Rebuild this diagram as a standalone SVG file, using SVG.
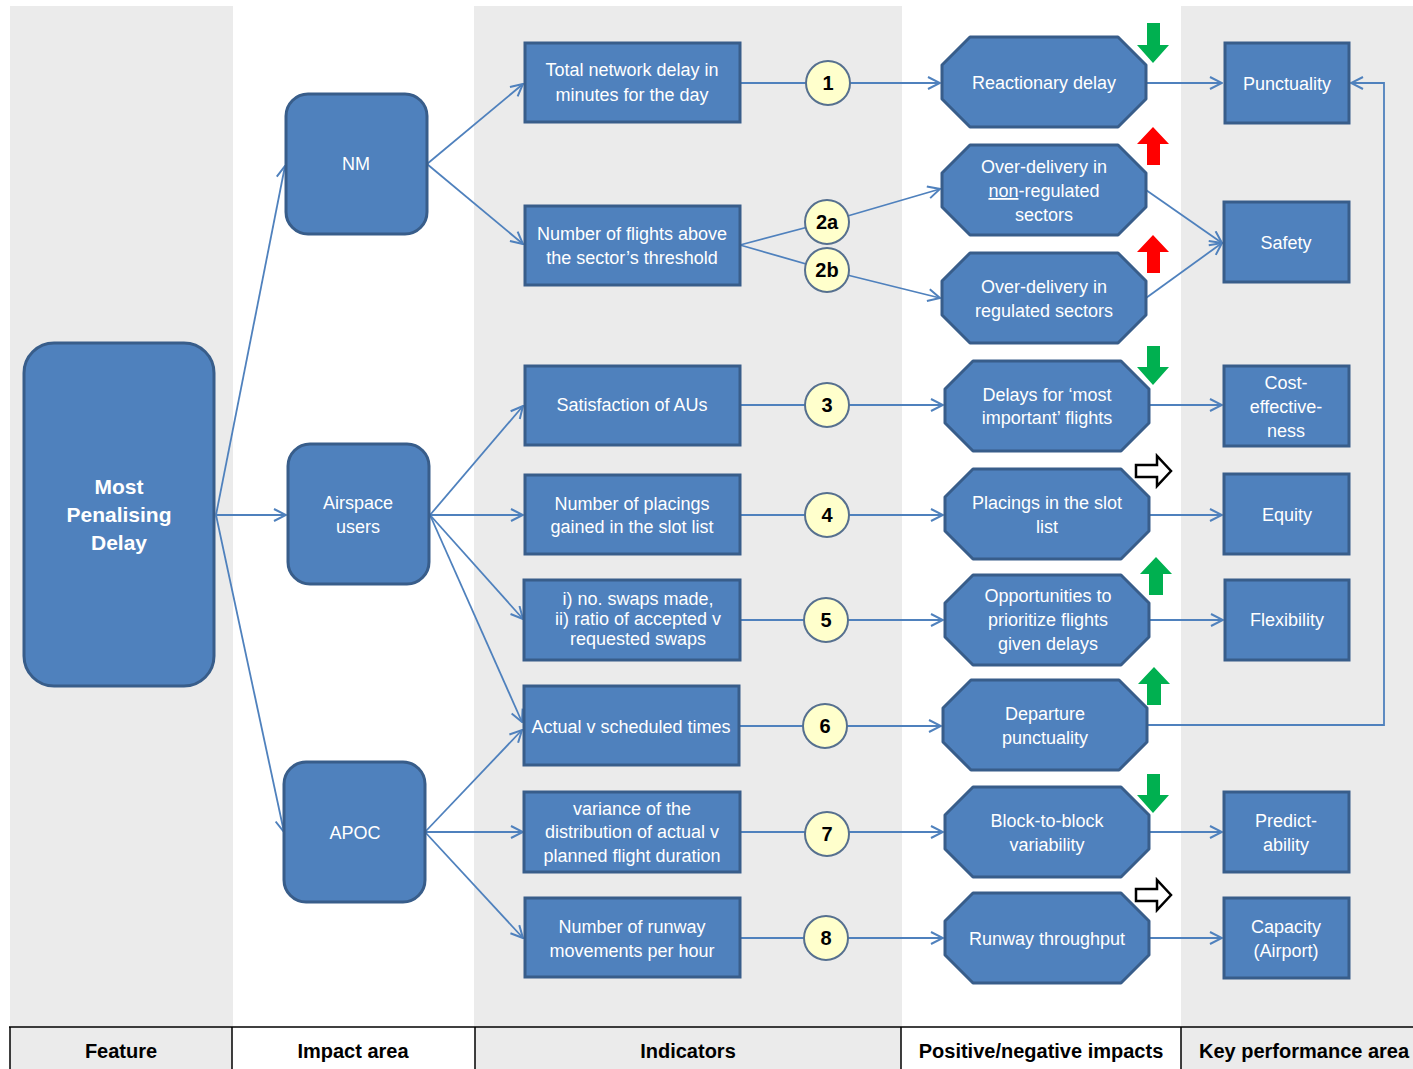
<svg xmlns="http://www.w3.org/2000/svg" width="1413" height="1069" viewBox="0 0 1413 1069">
<defs>
<style>
.col{fill:#ebebeb}
.rr{fill:#4f81bd;stroke:#385d8a;stroke-width:3}
.bx{fill:#4f81bd;stroke:#385d8a;stroke-width:3}
.oc{fill:#4f81bd;stroke:#385d8a;stroke-width:3;stroke-linejoin:round}
.ci{fill:#ffffcc;stroke:#56708f;stroke-width:2}
.t{font-family:"Liberation Sans",Arial,sans-serif;font-size:18px;fill:#fff;text-anchor:middle}
.tb{font-family:"Liberation Sans",Arial,sans-serif;font-size:21px;font-weight:bold;fill:#fff;text-anchor:middle}
.cn{font-family:"Liberation Sans",Arial,sans-serif;font-size:20px;font-weight:bold;fill:#000;text-anchor:middle}
.hd{font-family:"Liberation Sans",Arial,sans-serif;font-size:20px;font-weight:bold;fill:#000;text-anchor:middle}
.ln{fill:none;stroke:#4f81bd;stroke-width:1.8}
.g{fill:#00b050}
.r{fill:#ff0000}
.k{fill:#fff;stroke:#000;stroke-width:2.5}
.hl{stroke:#000;stroke-width:1.5}
</style>
<marker id="ah" viewBox="0 0 14 14" refX="13" refY="7" markerWidth="14" markerHeight="14" markerUnits="userSpaceOnUse" orient="auto">
<path d="M1,1 L13,7 L1,13" fill="none" stroke="#4f81bd" stroke-width="2"/>
</marker>
</defs>
<rect width="1413" height="1069" fill="#fff"/>
<g id="background">
<rect class="col" x="10" y="6" width="223" height="1021"/>
<rect class="col" x="474" y="6" width="428" height="1021"/>
<rect class="col" x="1181" y="6" width="232" height="1021"/>
<rect class="col" x="10" y="1027" width="222" height="42"/>
<rect class="col" x="475" y="1027" width="426" height="42"/>
<rect class="col" x="1181" y="1027" width="232" height="42"/>
<line class="hl" x1="9" y1="1027" x2="1413" y2="1027"/>
<line class="hl" x1="10" y1="1027" x2="10" y2="1069"/>
<line class="hl" x1="232" y1="1027" x2="232" y2="1069"/>
<line class="hl" x1="475" y1="1027" x2="475" y2="1069"/>
<line class="hl" x1="901" y1="1027" x2="901" y2="1069"/>
<line class="hl" x1="1181" y1="1027" x2="1181" y2="1069"/>
<text class="hd" x="121" y="1058">Feature</text>
<text class="hd" x="353" y="1058">Impact area</text>
<text class="hd" x="688" y="1058">Indicators</text>
<text class="hd" x="1041" y="1058">Positive/negative impacts</text>
<text class="hd" x="1199" y="1058" style="text-anchor:start">Key performance area</text>
</g>
<g id="connectors">
<path class="ln" marker-end="url(#ah)" d="M216,515 L285,166"/>
<path class="ln" marker-end="url(#ah)" d="M216,515 L286,515"/>
<path class="ln" marker-end="url(#ah)" d="M216,515 L284,832"/>
<path class="ln" marker-end="url(#ah)" d="M427,164 L523,84"/>
<path class="ln" marker-end="url(#ah)" d="M427,164 L523,244"/>
<path class="ln" marker-end="url(#ah)" d="M430,515 L523,406"/>
<path class="ln" marker-end="url(#ah)" d="M430,515 L523,515"/>
<path class="ln" marker-end="url(#ah)" d="M430,515 L523,619"/>
<path class="ln" marker-end="url(#ah)" d="M430,515 L522,722"/>
<path class="ln" marker-end="url(#ah)" d="M425,832 L522,730"/>
<path class="ln" marker-end="url(#ah)" d="M425,832 L523,832"/>
<path class="ln" marker-end="url(#ah)" d="M425,832 L523,938"/>
<path class="ln" marker-end="url(#ah)" d="M740,83 L940,83"/>
<path class="ln" marker-end="url(#ah)" d="M740,245 L827,222 L940,189"/>
<path class="ln" marker-end="url(#ah)" d="M740,245 L827,270 L940,298"/>
<path class="ln" marker-end="url(#ah)" d="M740,405 L943,405"/>
<path class="ln" marker-end="url(#ah)" d="M740,515 L943,515"/>
<path class="ln" marker-end="url(#ah)" d="M740,620 L943,620"/>
<path class="ln" marker-end="url(#ah)" d="M739,726 L941,726"/>
<path class="ln" marker-end="url(#ah)" d="M740,832 L943,832"/>
<path class="ln" marker-end="url(#ah)" d="M740,938 L943,938"/>
<path class="ln" marker-end="url(#ah)" d="M1146,83 L1222,83"/>
<path class="ln" marker-end="url(#ah)" d="M1146,190 L1222,243"/>
<path class="ln" marker-end="url(#ah)" d="M1146,298 L1222,243"/>
<path class="ln" marker-end="url(#ah)" d="M1149,405 L1222,405"/>
<path class="ln" marker-end="url(#ah)" d="M1149,515 L1222,515"/>
<path class="ln" marker-end="url(#ah)" d="M1149,620 L1223,620"/>
<path class="ln" marker-end="url(#ah)" d="M1147,725 L1384,725 L1384,83 L1351,83"/>
<path class="ln" marker-end="url(#ah)" d="M1149,832 L1222,832"/>
<path class="ln" marker-end="url(#ah)" d="M1149,938 L1222,938"/>
</g>
<g id="n-feature"><rect class="rr" x="24" y="343" width="190" height="343" rx="30"/><text class="tb" x="119" y="494">Most</text><text class="tb" x="119" y="522">Penalising</text><text class="tb" x="119" y="550">Delay</text></g>
<g id="n-nm"><rect class="rr" x="286" y="94" width="141" height="140" rx="22"/><text class="t" x="356" y="170">NM</text></g>
<g id="n-au"><rect class="rr" x="288" y="444" width="141" height="140" rx="22"/><text class="t" x="358" y="509">Airspace</text><text class="t" x="358" y="533">users</text></g>
<g id="n-apoc"><rect class="rr" x="284" y="762" width="141" height="140" rx="22"/><text class="t" x="355" y="839">APOC</text></g>

<g id="i1"><rect class="bx" x="525" y="43" width="215" height="79"/><text class="t" x="632" y="76">Total network delay in</text><text class="t" x="632" y="101">minutes for the day</text></g>
<g id="i2"><rect class="bx" x="525" y="206" width="215" height="79"/><text class="t" x="632" y="240">Number of flights above</text><text class="t" x="632" y="264">the sector’s threshold</text></g>
<g id="i3"><rect class="bx" x="525" y="366" width="215" height="79"/><text class="t" x="632" y="411">Satisfaction of AUs</text></g>
<g id="i4"><rect class="bx" x="525" y="475" width="215" height="79"/><text class="t" x="632" y="510">Number of placings</text><text class="t" x="632" y="533">gained in the slot list</text></g>
<g id="i5"><rect class="bx" x="524" y="580" width="216" height="80"/><text class="t" x="638" y="605">i) no. swaps made,</text><text class="t" x="638" y="625">ii) ratio of accepted v</text><text class="t" x="638" y="645">requested swaps</text></g>
<g id="i6"><rect class="bx" x="524" y="686" width="215" height="79"/><text class="t" x="631" y="733">Actual v scheduled times</text></g>
<g id="i7"><rect class="bx" x="524" y="792" width="216" height="80"/><text class="t" x="632" y="815">variance of the</text><text class="t" x="632" y="838">distribution of actual v</text><text class="t" x="632" y="862">planned flight duration</text></g>
<g id="i8"><rect class="bx" x="525" y="898" width="215" height="79"/><text class="t" x="632" y="933">Number of runway</text><text class="t" x="632" y="957">movements per hour</text></g>

<g id="c1"><circle class="ci" cx="828" cy="83" r="22"/><text class="cn" x="828" y="90">1</text></g>
<g id="c2a"><circle class="ci" cx="827" cy="222" r="22"/><text class="cn" x="827" y="229">2a</text></g>
<g id="c2b"><circle class="ci" cx="827" cy="270" r="22"/><text class="cn" x="827" y="277">2b</text></g>
<g id="c3"><circle class="ci" cx="827" cy="405" r="22"/><text class="cn" x="827" y="412">3</text></g>
<g id="c4"><circle class="ci" cx="827" cy="515" r="22"/><text class="cn" x="827" y="522">4</text></g>
<g id="c5"><circle class="ci" cx="826" cy="620" r="22"/><text class="cn" x="826" y="627">5</text></g>
<g id="c6"><circle class="ci" cx="825" cy="726" r="22"/><text class="cn" x="825" y="733">6</text></g>
<g id="c7"><circle class="ci" cx="827" cy="834" r="22"/><text class="cn" x="827" y="841">7</text></g>
<g id="c8"><circle class="ci" cx="826" cy="938" r="22"/><text class="cn" x="826" y="945">8</text></g>

<g id="o1"><polygon class="oc" points="970,37 1118,37 1146,65 1146,99 1118,127 970,127 942,99 942,65"/><text class="t" x="1044" y="89">Reactionary delay</text></g>
<g id="o2"><polygon class="oc" points="970,145 1118,145 1146,173 1146,207 1118,235 970,235 942,207 942,173"/><text class="t" x="1044" y="173">Over-delivery in</text><text class="t" x="1044" y="197"><tspan text-decoration="underline">non</tspan>-regulated</text><text class="t" x="1044" y="221">sectors</text></g>
<g id="o3"><polygon class="oc" points="970,253 1118,253 1146,281 1146,315 1118,343 970,343 942,315 942,281"/><text class="t" x="1044" y="293">Over-delivery in</text><text class="t" x="1044" y="317">regulated sectors</text></g>
<g id="o4"><polygon class="oc" points="973,361 1121,361 1149,389 1149,423 1121,451 973,451 945,423 945,389"/><text class="t" x="1047" y="401">Delays for ‘most</text><text class="t" x="1047" y="424">important’ flights</text></g>
<g id="o5"><polygon class="oc" points="973,469 1121,469 1149,497 1149,531 1121,559 973,559 945,531 945,497"/><text class="t" x="1047" y="509">Placings in the slot</text><text class="t" x="1047" y="533">list</text></g>
<g id="o6"><polygon class="oc" points="973,575 1121,575 1149,603 1149,637 1121,665 973,665 945,637 945,603"/><text class="t" x="1048" y="602">Opportunities to</text><text class="t" x="1048" y="626">prioritize flights</text><text class="t" x="1048" y="650">given delays</text></g>
<g id="o7"><polygon class="oc" points="971,680 1119,680 1147,708 1147,742 1119,770 971,770 943,742 943,708"/><text class="t" x="1045" y="720">Departure</text><text class="t" x="1045" y="744">punctuality</text></g>
<g id="o8"><polygon class="oc" points="973,787 1121,787 1149,815 1149,849 1121,877 973,877 945,849 945,815"/><text class="t" x="1047" y="827">Block-to-block</text><text class="t" x="1047" y="851">variability</text></g>
<g id="o9"><polygon class="oc" points="973,893 1121,893 1149,921 1149,955 1121,983 973,983 945,955 945,921"/><text class="t" x="1047" y="945">Runway throughput</text></g>

<g id="k1"><rect class="bx" x="1225" y="43" width="124" height="80"/><text class="t" x="1287" y="90">Punctuality</text></g>
<g id="k2"><rect class="bx" x="1224" y="202" width="125" height="80"/><text class="t" x="1286" y="249">Safety</text></g>
<g id="k3"><rect class="bx" x="1224" y="366" width="125" height="80"/><text class="t" x="1286" y="389">Cost-</text><text class="t" x="1286" y="413">effective-</text><text class="t" x="1286" y="437">ness</text></g>
<g id="k4"><rect class="bx" x="1224" y="474" width="125" height="80"/><text class="t" x="1287" y="521">Equity</text></g>
<g id="k5"><rect class="bx" x="1225" y="580" width="124" height="80"/><text class="t" x="1287" y="626">Flexibility</text></g>
<g id="k6"><rect class="bx" x="1224" y="792" width="125" height="80"/><text class="t" x="1286" y="827">Predict-</text><text class="t" x="1286" y="851">ability</text></g>
<g id="k7"><rect class="bx" x="1224" y="898" width="125" height="80"/><text class="t" x="1286" y="933">Capacity</text><text class="t" x="1286" y="957">(Airport)</text></g>

<g id="indicators-arrows">
<polygon class="g" points="1147,23 1160,23 1160,45 1169,45 1153,63 1137,45 1147,45"/>
<polygon class="r" points="1153,127 1169,144 1160,144 1160,165 1147,165 1147,144 1137,144"/>
<polygon class="r" points="1153,235 1169,252 1160,252 1160,273 1147,273 1147,252 1137,252"/>
<polygon class="g" points="1147,346 1160,346 1160,367 1169,367 1153,385 1137,367 1147,367"/>
<polygon class="k" points="1136,465 1157,465 1157,456 1171,471 1157,486 1157,477 1136,477"/>
<polygon class="g" points="1156,557 1172,574 1163,574 1163,595 1149,595 1149,574 1140,574"/>
<polygon class="g" points="1154,667 1170,684 1161,684 1161,705 1147,705 1147,684 1138,684"/>
<polygon class="g" points="1147,774 1160,774 1160,795 1169,795 1153,813 1137,795 1147,795"/>
<polygon class="k" points="1136,889 1157,889 1157,880 1171,895 1157,910 1157,901 1136,901"/>
</g>
</svg>
